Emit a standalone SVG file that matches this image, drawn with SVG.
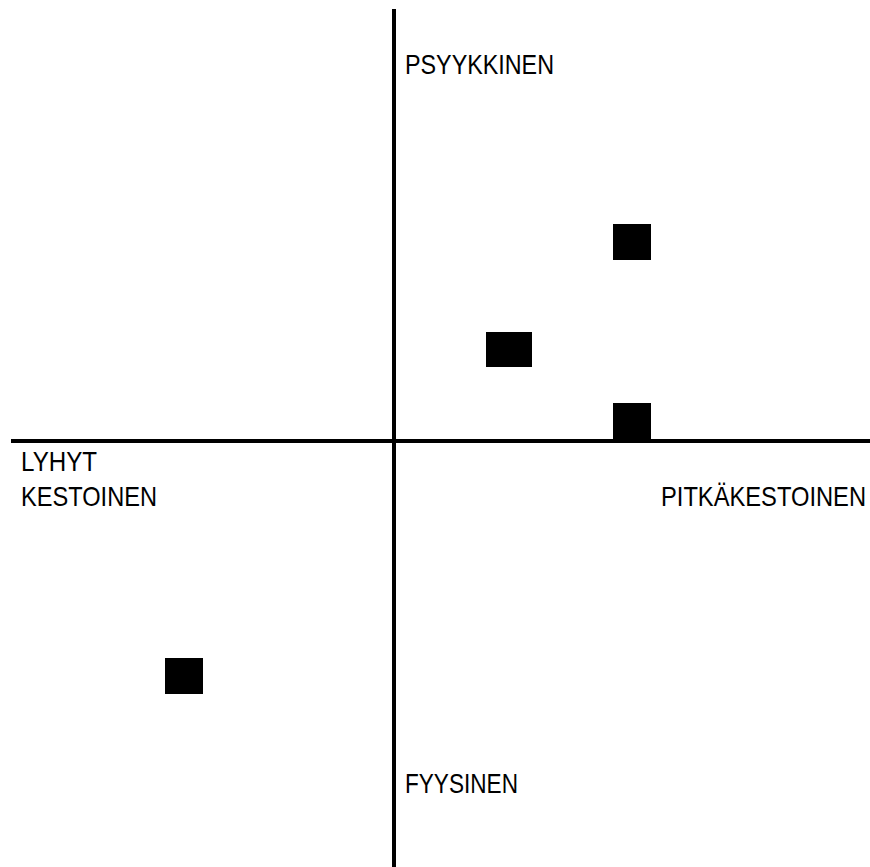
<svg xmlns="http://www.w3.org/2000/svg" width="870" height="867" viewBox="0 0 870 867">
<style>
.axis{stroke:#000;stroke-width:4;fill:none}
.pt{fill:#000}
.lbl{font-family:"Liberation Sans",Arial,sans-serif;font-size:28px;fill:#000}
</style>
<rect width="870" height="867" fill="#fff"/>
<g id="axes">
<line class="axis" x1="394" y1="9" x2="394" y2="867"/>
<line class="axis" x1="11" y1="441" x2="870" y2="441"/>
</g>
<g id="labels">
<text class="lbl" x="405" y="74" textLength="149" lengthAdjust="spacingAndGlyphs">PSYYKKINEN</text>
<text class="lbl" x="21" y="471" textLength="76" lengthAdjust="spacingAndGlyphs">LYHYT</text>
<text class="lbl" x="21" y="506" textLength="136" lengthAdjust="spacingAndGlyphs">KESTOINEN</text>
<text class="lbl" x="866" y="506" text-anchor="end" textLength="205" lengthAdjust="spacingAndGlyphs">PITKÄKESTOINEN</text>
<text class="lbl" x="405" y="793" textLength="113" lengthAdjust="spacingAndGlyphs">FYYSINEN</text>
</g>
<g id="point1"><rect class="pt" x="613" y="224" width="38" height="36"/></g>
<g id="point2"><rect class="pt" x="486" y="332" width="46" height="35"/></g>
<g id="point3"><rect class="pt" x="613" y="403" width="38" height="37"/></g>
<g id="point4"><rect class="pt" x="165" y="658" width="38" height="36"/></g>
</svg>
